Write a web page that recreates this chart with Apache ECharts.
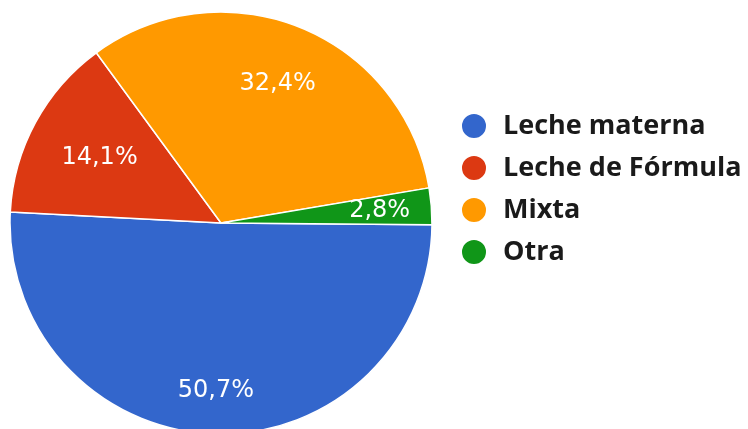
<!DOCTYPE html>
<html>
<head>
<meta charset="utf-8">
<script src="https://cdn.jsdelivr.net/npm/echarts@6/dist/echarts.min.js"></script>
<style>
html,body{margin:0;padding:0;background:#fff;}
#chart{width:748px;height:429px;}
</style>
</head>
<body>
<div id="chart"></div>
<script>
const categories = ["Leche materna", "Leche de Fórmula", "Mixta", "Otra"];
const values = [50.7, 14.1, 32.4, 2.8];
const colors = ["#3366cc", "#dc3912", "#ff9900", "#109618"];

// label placement (fraction of radius) per slice - style only
const labelRadiusFrac = [0.78, 0.64, 0.70, 0.74];
const R = 211;
const center = [221, 223];

const pieData = categories.map((name, i) => ({ name: name, value: values[i], itemStyle: { color: colors[i] } }));

const labelSeries = categories.map((_, k) => ({
  type: 'pie',
  center: center,
  radius: [R * (2 * labelRadiusFrac[k] - 1), R],
  startAngle: -0.5,
  clockwise: true,
  silent: true,
  legendHoverLink: false,
  data: categories.map((name, i) => ({
    name: name,
    value: values[i],
    label: { show: i === k }
  })),
  itemStyle: { color: 'rgba(0,0,0,0)', borderWidth: 0 },
  label: {
    position: 'inside',
    formatter: p => String(p.value).replace('.', ',') + '%',
    color: '#ffffff',
    fontFamily: 'DejaVu Sans',
    fontSize: 24,
    textBorderWidth: 0
  },
  labelLine: { show: false },
  emphasis: { disabled: true }
}));

const chart = echarts.init(document.getElementById('chart'), null, { renderer: 'canvas' });
chart.setOption({
  animation: false,
  backgroundColor: '#ffffff',
  legend: {
    orient: 'vertical',
    left: 460,
    top: 112,
    padding: 0,
    itemWidth: 48,
    itemHeight: 26,
    itemGap: 14,
    icon: 'circle',
    data: categories,
    textStyle: {
      fontFamily: 'Open Sans',
      fontWeight: 'bold',
      fontSize: 27,
      color: '#1a1a1a',
      lineHeight: 26,
      padding: 0
    }
  },
  series: [
    {
      type: 'pie',
      center: center,
      radius: [0, R],
      startAngle: -0.5,
      clockwise: true,
      silent: true,
      data: pieData,
      label: { show: false },
      labelLine: { show: false },
      itemStyle: { borderColor: '#ffffff', borderWidth: 1.5 }
    }
  ].concat(labelSeries)
});
</script>
</body>
</html>
